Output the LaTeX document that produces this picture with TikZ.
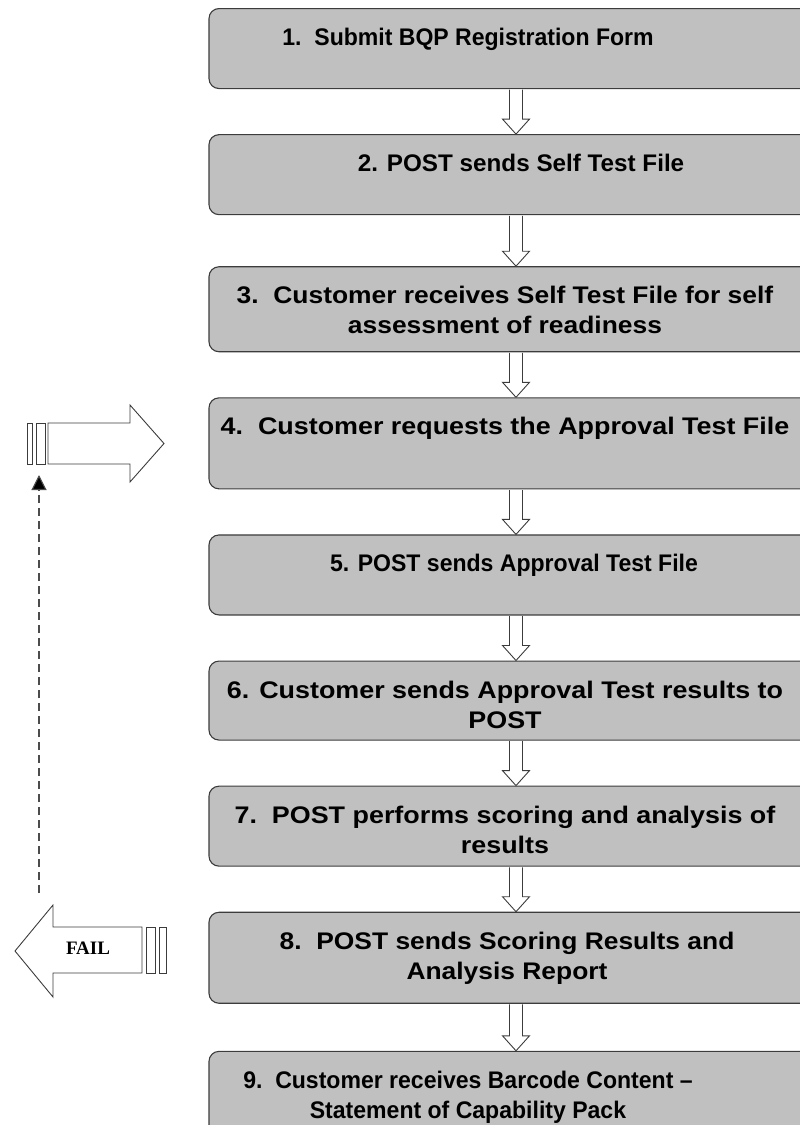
\documentclass[tikz,border=0pt]{standalone}
\usepackage{fontspec}
\setmainfont{Liberation Sans}
\newfontfamily\failfont{Liberation Serif}
\usepackage{xcolor}
\usetikzlibrary{positioning,calc,arrows.meta}

\definecolor{boxgray}{HTML}{C0C0C0}
\definecolor{linegray}{HTML}{3C3C3C}

\begin{document}
\begin{tikzpicture}[
    x=1pt, y=-1pt,
    node distance=45pt,
    stepbox/.style={rectangle, draw=linegray, line width=1.1pt, fill=boxgray, rounded corners=10pt, minimum width=614pt, minimum height=80pt, inner sep=0pt},
    steptext/.style={anchor=north, align=center, inner sep=0pt, font=\fontsize{24}{30}\selectfont\bfseries\addfontfeature{FakeStretch=#1}},
    steptext/.default=1,
    hollow/.style={draw=linegray, line width=0.9pt, fill=white},
    block/.style={draw=linegray, line width=0.9pt, fill=white},
    retry/.style={dash pattern=on 8pt off 5pt, draw=black!70, line width=1.1pt, -{Triangle[length=15pt,width=15pt,fill=black]}}
]
\useasboundingbox (0,0) rectangle (800,1125);
\clip (0,0) rectangle (800,1125);

% the nine steps
\node[stepbox, anchor=north] (step1) at (516,8) {};
\node[stepbox, below=of step1] (step2) {};
\node[stepbox, below=51pt of step2, minimum height=85pt] (step3) {};
\node[stepbox, below=of step3, minimum height=91pt] (step4) {};
\node[stepbox, below=of step4] (step5) {};
\node[stepbox, below=of step5, minimum height=79pt] (step6) {};
\node[stepbox, below=of step6] (step7) {};
\node[stepbox, below=of step7, minimum height=91pt] (step8) {};
\node[stepbox, below=47pt of step8, minimum height=95pt] (step9) {};

\node[steptext=0.96] (text1) at ([xshift=-48pt, yshift=-20pt]step1.north) {1.~~Submit BQP Registration Form};
\node[steptext=1.01] (text2) at ([xshift=5pt, yshift=-20pt]step2.north) {2. POST sends Self Test File};
\node[steptext=1.10] (text3) at ([xshift=-11pt, yshift=-20pt]step3.north) {3.~~Customer receives Self Test File for self\\assessment of readiness};
\node[steptext=1.12] (text4) at ([xshift=-11pt, yshift=-20pt]step4.north) {4.~~Customer requests the Approval Test File};
\node[steptext=0.96] (text5) at ([xshift=-2pt, yshift=-20pt]step5.north) {5. POST sends Approval Test File};
\node[steptext=1.12] (text6) at ([xshift=-11pt, yshift=-20pt]step6.north) {6. Customer sends Approval Test results to\\POST};
\node[steptext=1.12] (text7) at ([xshift=-11pt, yshift=-20pt]step7.north) {7.~~POST performs scoring and analysis of\\results};
\node[steptext=1.10] (text8) at ([xshift=-9pt, yshift=-20pt]step8.north) {8.~~POST sends Scoring Results and\\Analysis Report};
\node[steptext=0.96] (text9) at ([xshift=-48pt, yshift=-20pt]step9.north) {9.~~Customer receives Barcode Content --\\Statement of Capability Pack};

% hollow arrows between the steps
\foreach \a/\b in {1/2,2/3,3/4,4/5,5/6,6/7,7/8,8/9}
  \draw[hollow] let \p1=(step\a.south), \p2=(step\b.north) in
    (\x1-6.5pt,\y1-0.6pt) -- (\x1-6.5pt,\y2+15pt) -- (\x1-13.5pt,\y2+15pt) -- (\x2,\y2)
    -- (\x1+13.5pt,\y2+15pt) -- (\x1+6.5pt,\y2+15pt) -- (\x1+6.5pt,\y1-0.6pt);

% back into step 4
\draw[block] (27,423) rectangle (32,464);
\draw[block] (36,423) rectangle (45,464);
\draw[block] (48,423) -- (130,423) -- (130,405) -- (164,443.5) -- (130,482) -- (130,464) -- (48,464) -- cycle;

% fail out of step 8
\draw[block] (166,927) rectangle (159,973);
\draw[block] (155,927) rectangle (146,973);
\draw[block] (142,927) -- (53,927) -- (53,905) -- (15,951) -- (53,997) -- (53,973) -- (142,973) -- cycle;
\node[font=\failfont\bfseries\fontsize{19}{19}\selectfont] (fail) at (88,948) {FAIL};

\coordinate (retrystart) at (39,893);
\coordinate (retryend) at (39,475);
\draw[retry] (retrystart) -- (retryend);

\end{tikzpicture}
\end{document}
